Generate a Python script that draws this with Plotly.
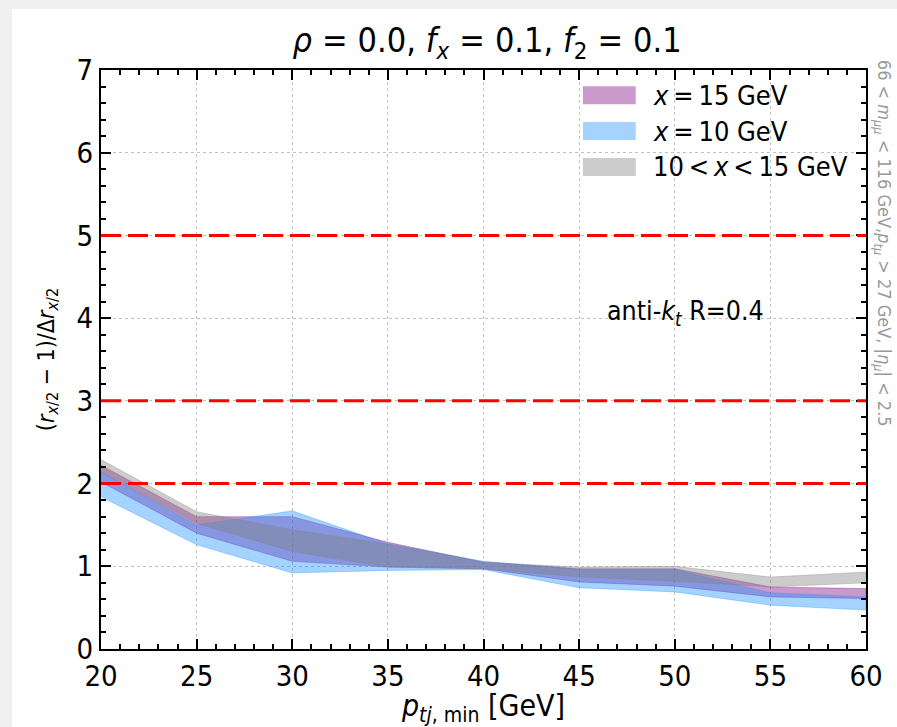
import plotly.graph_objects as go

# ---------------- data ----------------
pt_min = [20, 25, 30, 35, 40, 45, 50, 55, 60]

x15_lo = [2.02, 1.40, 1.06, 0.99, 0.97, 0.81, 0.76, 0.63, 0.61]
x15_hi = [2.22, 1.60, 1.60, 1.29, 1.05, 0.97, 0.97, 0.75, 0.73]

x10_lo = [1.84, 1.26, 0.92, 0.95, 0.96, 0.74, 0.69, 0.53, 0.47]
x10_hi = [2.14, 1.50, 1.67, 1.27, 1.06, 0.96, 0.96, 0.68, 0.63]

mid_lo = [2.14, 1.52, 1.18, 0.99, 0.97, 0.87, 0.82, 0.75, 0.80]
mid_hi = [2.29, 1.66, 1.44, 1.27, 1.05, 0.99, 1.00, 0.87, 0.93]

thresholds = [2, 3, 5]

x_ticks = [20, 25, 30, 35, 40, 45, 50, 55, 60]
y_ticks = [0, 1, 2, 3, 4, 5, 6, 7]

series_names = ["<i>x</i>&#8201;=&#8201;15 GeV", "<i>x</i>&#8201;=&#8201;10 GeV",
                "10&#8201;&lt;&#8201;<i>x</i>&#8201;&lt;&#8201;15 GeV"]
series_colors = ["rgba(128,0,128,0.4)", "rgba(30,144,255,0.4)", "rgba(128,128,128,0.4)"]

NARROW = "Liberation Sans Narrow, DejaVu Sans Condensed, sans-serif"
COND = "DejaVu Sans Condensed, DejaVu Sans, sans-serif"
SP = "&#8196;"

fig = go.Figure()

bands = [(x15_lo, x15_hi), (x10_lo, x10_hi), (mid_lo, mid_hi)]
for (lo, hi), name, col in zip(bands, series_names, series_colors):
    fig.add_trace(go.Scatter(
        x=pt_min + pt_min[::-1],
        y=hi + lo[::-1],
        fill="toself",
        fillcolor=col,
        line=dict(color=col, width=0.8),
        mode="lines",
        name=name,
        showlegend=False,
        hoverinfo="skip",
    ))

for t in thresholds:
    fig.add_hline(y=t, line=dict(color="red", width=3, dash="20px,7px"), layer="above")

# white page area (light grey strip at the top-left edge)
fig.add_shape(type="rect", xref="paper", yref="paper",
              x0=-0.1163, x1=1.10, y0=-0.20, y1=1.1054,
              fillcolor="white", line=dict(width=0), layer="below")

# custom legend box
fig.add_shape(type="rect", xref="paper", yref="paper",
              x0=0.624, x1=0.993, y0=0.800, y1=0.990,
              fillcolor="white", line=dict(width=0), layer="between")
patch_y = [(0.941, 0.972), (0.879, 0.910), (0.817, 0.848)]
for (y0, y1), name, col in zip(patch_y, series_names, series_colors):
    fig.add_shape(type="rect", xref="paper", yref="paper",
                  x0=0.630, x1=0.699, y0=y0, y1=y1,
                  fillcolor=col, line=dict(width=0), layer="above")
    fig.add_annotation(xref="paper", yref="paper", x=0.719, y=(y0 + y1) / 2,
                       text=name, showarrow=False, xanchor="left", yanchor="middle",
                       font=dict(family=NARROW, size=27, color="black"))

fig.add_annotation(xref="paper", yref="paper", x=0.764, y=0.582,
                   text="anti-<i>k</i><sub><i>t</i></sub> R=0.4", showarrow=False,
                   xanchor="center", yanchor="middle",
                   font=dict(family=NARROW, size=26.5, color="black"))

fig.add_annotation(xref="paper", yref="paper", x=1.022, y=0.700,
                   text="66 &lt; <i>m</i><sub><i>μμ</i></sub> &lt; 116 GeV,<i>p</i><sub><i>tμ</i></sub> &gt; 27 GeV, |<i>η</i><sub><i>μ</i></sub>| &lt; 2.5",
                   showarrow=False, textangle=90, xanchor="center", yanchor="middle",
                   font=dict(family=COND, size=18, color="#999999"))

axis_common = dict(
    showline=True, linecolor="black", linewidth=2, mirror="allticks",
    ticks="inside", ticklen=10, tickwidth=2, tickcolor="black",
    showgrid=True, gridcolor="#c0c0c0", gridwidth=1, griddash="dot",
    zeroline=False, automargin=False,
    tickfont=dict(family=NARROW, size=29, color="black"),
)

fig.update_xaxes(
    range=[20, 60], tickvals=x_ticks, ticktext=[str(v) for v in x_ticks],
    minor=dict(dtick=1, ticks="inside", ticklen=5, tickwidth=1.5, tickcolor="black", showgrid=False),
    title=dict(text="<i>p</i><sub><i>tj</i>, min</sub> [GeV]", font=dict(family=NARROW, size=30, color="black"), standoff=0),
    **axis_common,
)
fig.update_yaxes(
    range=[0, 7], tickvals=y_ticks, ticktext=[str(v) for v in y_ticks],
    minor=dict(dtick=0.2, ticks="inside", ticklen=5, tickwidth=1.5, tickcolor="black", showgrid=False),
    title=dict(text="(<i>r</i><sub><i>x</i>/2</sub> − 1)/Δ<i>r</i><sub><i>x</i>/2</sub>", font=dict(family=COND, size=23, color="black"), standoff=16),
    **axis_common,
)

title_text = (f"<i>ρ</i>{SP}={SP}0.0, <i>f</i><sub><i>x</i></sub>{SP}={SP}0.1, "
              f"<i>f</i><sub>2</sub>{SP}={SP}0.1")

fig.update_layout(
    width=897, height=727,
    margin=dict(l=101, r=31, t=70, b=78, pad=0),
    paper_bgcolor="#f0f0f0",
    plot_bgcolor="white",
    title=dict(text=title_text,
               x=0.543, xanchor="center", y=0.945, yanchor="middle",
               font=dict(family=NARROW, size=34, color="black")),
    font=dict(family=NARROW, color="black"),
    showlegend=False,
)

fig.write_html("out.html",
               config={"displayModeBar": False},
               post_script="document.body.style.margin='0';document.body.style.overflow='hidden';")
